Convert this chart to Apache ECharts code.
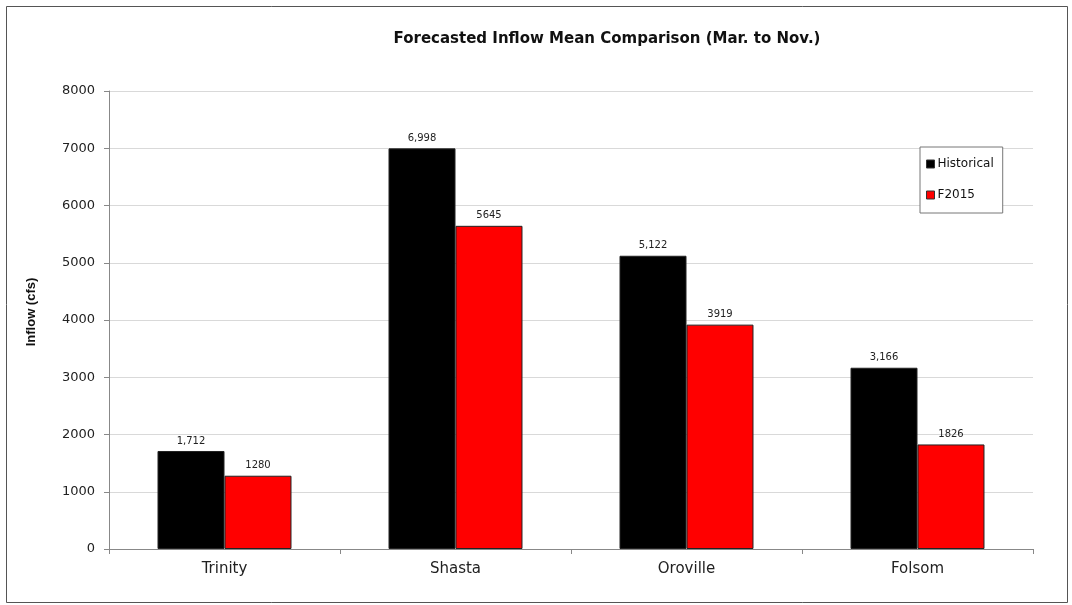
<!DOCTYPE html>
<html>
<head>
<meta charset="utf-8">
<script src="https://cdn.jsdelivr.net/npm/echarts@6/dist/echarts.min.js"></script>
<style>
  html, body { margin: 0; padding: 0; background: #fff; }
  #chart { width: 1072px; height: 605px; }
</style>
</head>
<body>
<div id="chart"></div>
<script>
// Reservoirs and mean inflow (cfs), March to November
const categories = ['Trinity', 'Shasta', 'Oroville', 'Folsom'];
const historical = [1712, 6998, 5122, 3166];
const f2015 = [1280, 5645, 3919, 1826];
const seriesNames = ['Historical', 'F2015'];

const chart = echarts.init(document.getElementById('chart'));
const fontFamily = 'DejaVu Sans, Liberation Sans, sans-serif';

chart.setOption({
  animation: false,
  backgroundColor: '#fff',
  textStyle: { fontFamily: fontFamily },
  graphic: [{
    type: 'rect',
    shape: { x: 6.5, y: 6.5, width: 1061, height: 596 },
    style: { fill: 'none', stroke: '#555', lineWidth: 1 },
    silent: true
  }],
  title: {
    text: 'Forecasted Inflow Mean Comparison (Mar. to Nov.)',
    left: 602,
    textAlign: 'center',
    top: 27,
    textStyle: { fontSize: 15, fontWeight: 'bold', color: '#111', fontFamily: fontFamily }
  },
  legend: {
    orient: 'vertical',
    left: 920,
    top: 147,
    padding: [11, 9, 12, 6],
    itemWidth: 8,
    itemHeight: 8,
    itemGap: 19,
    borderColor: '#777',
    borderWidth: 1,
    backgroundColor: '#fff',
    icon: 'rect',
    itemStyle: { borderColor: '#333', borderWidth: 1 },
    textStyle: { fontSize: 12, color: '#111', padding: [0, 0, 0, -2], fontFamily: fontFamily },
    data: seriesNames
  },
  grid: { left: 109, right: 39, top: 91, bottom: 56 },
  xAxis: {
    type: 'category',
    data: categories,
    axisLine: { lineStyle: { color: '#888', width: 1 } },
    axisTick: { show: true, length: 5, lineStyle: { color: '#888' } },
    axisLabel: { fontSize: 15, color: '#222', margin: 13 }
  },
  yAxis: {
    type: 'value',
    min: 0,
    max: 8000,
    interval: 1000,
    name: 'Inflow (cfs)',
    nameLocation: 'middle',
    nameGap: 71,
    nameRotate: 90,
    nameTextStyle: {
      fontSize: 13, fontWeight: 'bold', color: '#111',
      fontFamily: 'Liberation Sans, Arial, sans-serif',
      padding: [0, 0, 0, 16]
    },
    axisLine: { show: true, lineStyle: { color: '#888' } },
    axisTick: { show: true, length: 5, inside: false, lineStyle: { color: '#888' } },
    axisLabel: { fontSize: 13, color: '#222', margin: 14, formatter: v => String(v) },
    splitLine: { lineStyle: { color: '#d9d9d9', width: 1 } }
  },
  series: [
    {
      name: seriesNames[0],
      type: 'bar',
      data: historical,
      barGap: '0%',
      barCategoryGap: '42%',
      itemStyle: { color: '#000', borderColor: '#222', borderWidth: 1 },
      label: {
        show: true,
        position: 'top',
        distance: 5,
        fontSize: 10,
        color: '#222',
        formatter: p => p.value.toLocaleString('en-US')
      }
    },
    {
      name: seriesNames[1],
      type: 'bar',
      data: f2015,
      barGap: '0%',
      barCategoryGap: '42%',
      itemStyle: { color: '#ff0000', borderColor: '#222', borderWidth: 1 },
      label: {
        show: true,
        position: 'top',
        distance: 5,
        fontSize: 10,
        color: '#222',
        formatter: p => String(p.value)
      }
    }
  ]
});
</script>
</body>
</html>
